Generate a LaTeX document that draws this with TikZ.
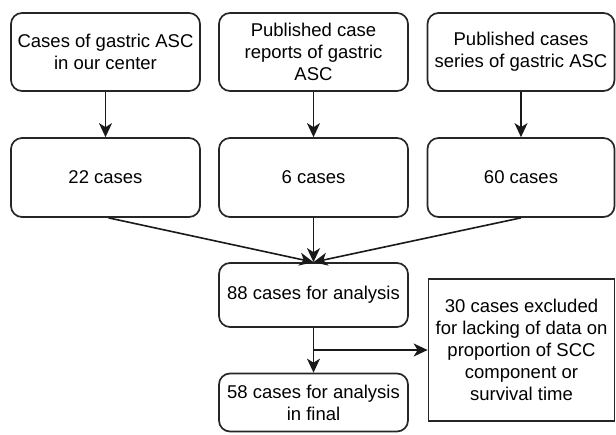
\documentclass[tikz,border=0pt]{standalone}
\usepackage{fontspec}
\setmainfont{Liberation Sans}
\usetikzlibrary{arrows.meta}
\begin{document}
\begin{tikzpicture}[x=1pt,y=-1pt,
  box/.style={draw=black!85, line width=1.7pt, rounded corners=11pt, align=center,
    inner sep=0pt, font=\fontsize{18.5}{22}\selectfont},
  sqbox/.style={box, rounded corners=0pt},
  arr/.style={line width=1.6pt, draw=black!90, -{Stealth[length=14pt,width=13pt,inset=4pt]}}]
\useasboundingbox (0,0) rectangle (616,434);
% top row
\node[box, minimum width=189pt, minimum height=78pt] (t1) at (105.5,52) {Cases of gastric ASC\\in our center};
\node[box, minimum width=189pt, minimum height=78pt] (t2) at (313.5,52) {Published case\\reports of gastric\\ASC};
\node[box, minimum width=187pt, minimum height=78pt] (t3) at (521,52) {Published cases\\series of gastric ASC};
% second row
\node[box, minimum width=189pt, minimum height=79pt] (c1) at (105.5,177.5) {22 cases};
\node[box, minimum width=189pt, minimum height=79pt] (c2) at (313.5,177.5) {6 cases};
\node[box, minimum width=187pt, minimum height=79pt] (c3) at (521,177.5) {60 cases};
% analysis
\node[box, minimum width=189pt, minimum height=64pt] (a) at (313.5,295) {88 cases for analysis};
\node[box, minimum width=189pt, minimum height=58pt] (f) at (313.5,402.5) {58 cases for analysis\\in final};
\node[sqbox, minimum width=186pt, minimum height=142pt] (x) at (521.5,350) {30 cases excluded\\for lacking of data on\\proportion of SCC\\component or\\survival time};
% arrows
\draw[arr] (t1.south) -- (c1.north);
\draw[arr] (t2.south) -- (c2.north);
\draw[arr] (t3.south) -- (c3.north);
\draw[arr] (c1.south) ++(3pt,0) -- (a.north);
\draw[arr] (c2.south) -- (a.north);
\draw[arr] (c3.south) -- (a.north);
\draw[arr] (a.south) -- (f.north);
\coordinate (j) at (a.south |- x.west);
\draw[arr] (j) -- (x.west);
\end{tikzpicture}
\end{document}
